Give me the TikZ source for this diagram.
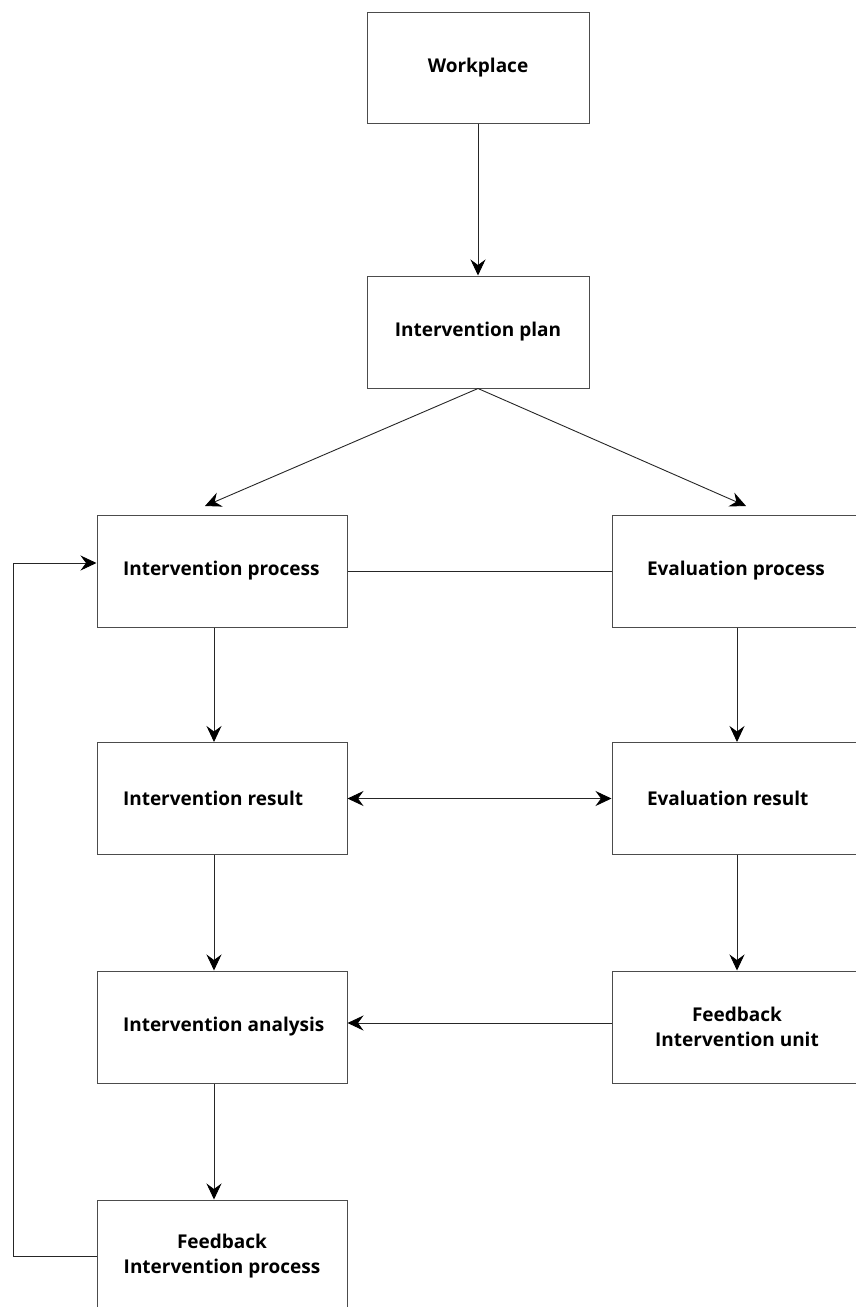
\documentclass[tikz,border=0pt]{standalone}
\usepackage{fontspec}
\setmainfont{Open Sans}
\usetikzlibrary{arrows.meta}
\tikzset{
  box/.style={draw=black!70, line width=1pt, minimum width=250pt, minimum height=112pt, inner sep=0pt,
    font=\fontsize{19}{25}\selectfont\bfseries, align=center},
  conn/.style={draw=black!85, line width=0.9pt},
  tip/.style={-{Stealth[length=16pt,width=15pt,inset=5.5pt,color=black]}},
  arr/.style={conn, tip},
  darr/.style={conn, {Stealth[length=16pt,width=15pt,inset=5.5pt,color=black]}-{Stealth[length=16pt,width=15pt,inset=5.5pt,color=black]}}
}
\newcommand\lefttxt[2]{\makebox[#1][l]{#2}}
\begin{document}
\begin{tikzpicture}[x=1pt,y=-1pt]
\useasboundingbox (0,0) rectangle (856,1307);
\clip (0,0) rectangle (856,1307);
\node[box, minimum width=222pt, minimum height=111pt] (wp) at (478,67.5) {Workplace};
\node[box, minimum width=222pt] (plan) at (478,332) {Intervention plan};
\node[box] (ip) at (222,571) {\lefttxt{198pt}{Intervention process}}; \node[box] (ep) at (737,571) {\lefttxt{180pt}{Evaluation process}};
\node[box] (ir) at (222,798.5) {\lefttxt{198pt}{Intervention result}}; \node[box] (er) at (737,798.5) {\lefttxt{180pt}{Evaluation result}};
\node[box] (ia) at (222,1027) {\lefttxt{198pt}{Intervention analysis}}; \node[box] (fu) at (737,1027) {Feedback\\Intervention unit};
\node[box] (fp) at (222,1256) {Feedback\\Intervention process};
\coordinate (tl) at (205,506); \coordinate (tr) at (746,506);
\draw[arr] (wp) -- (plan);
\draw[arr] (plan.south) -- (tl); \draw[arr] (plan.south) -- (tr);
\draw[conn] (ip) -- (ep);
\draw[arr] ([xshift=-8pt]ip.south) -- ([xshift=-8pt]ir.north); \draw[arr] ([xshift=-8pt]ir.south) -- ([xshift=-8pt]ia.north); \draw[arr] ([xshift=-8pt]ia.south) -- ([xshift=-8pt]fp.north);
\draw[arr] (ep) -- (er); \draw[arr] (er) -- (fu);
\draw[darr] (ir) -- (er);
\draw[arr] ([yshift=4pt]fu.west) -- ([yshift=4pt]ia.east);
\draw[arr] (fp.west) -- ++(-83,0) |- ([yshift=8pt]ip.west);
\end{tikzpicture}
\end{document}
